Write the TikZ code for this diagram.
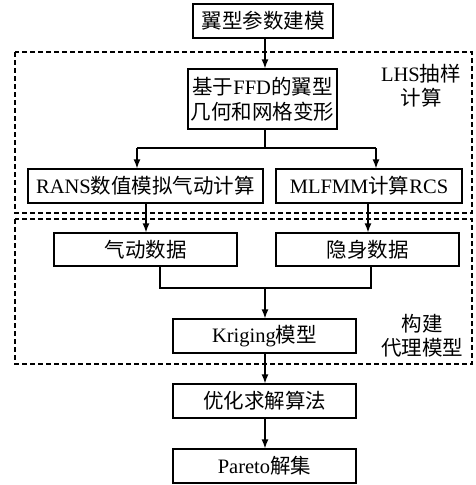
\documentclass[tikz,border=0pt]{standalone}
\usepackage{fontspec}
\setmainfont{Liberation Serif}
\newfontfamily\cjk{Noto Sans CJK SC}
\usetikzlibrary{arrows.meta}
\begin{document}
\begin{tikzpicture}[x=1pt,y=-1pt,
  box/.style={draw,line width=1.3pt,minimum height=34pt,inner sep=0pt,align=center,font=\fontsize{20.5}{25}\selectfont},
  lbl/.style={align=center,inner sep=0pt,font=\fontsize{20.5}{24}\selectfont},
  grp/.style={draw,line width=1.2pt,dash pattern=on 5pt off 3pt},
  arr/.style={line width=1.3pt,-{Latex[length=9pt,width=7pt]}},
  ln/.style={line width=1.3pt}]
\useasboundingbox (0,0) rectangle (475,485);
\draw[grp] (15,52) rectangle (472,213);
\draw[grp] (15,219) rectangle (472,364);
\node[box,minimum width=140pt] (n1) at (263,21) {{\cjk 翼型参数建模}};
\node[box,minimum width=149pt,minimum height=60pt] (ffd) at (262.5,99) {{\cjk 基于}FFD{\cjk 的翼型}\\{\cjk 几何和网格变形}};
\node[box,minimum width=235pt] (rans) at (145.5,186) {RANS{\cjk 数值模拟气动计算}};
\node[box,minimum width=186pt] (mlfmm) at (369,186) {MLFMM{\cjk 计算}RCS};
\node[box,minimum width=183pt,minimum height=33pt] (aero) at (145.5,249.5) {{\cjk 气动数据}};
\node[box,minimum width=183pt,minimum height=33pt] (stl) at (367.5,249.5) {{\cjk 隐身数据}};
\node[box,minimum width=183pt] (krig) at (264.5,336) {Kriging{\cjk 模型}};
\node[box,minimum width=183pt] (opt) at (264.5,401) {{\cjk 优化求解算法}};
\node[box,minimum width=183pt] (par) at (264.5,466) {Pareto{\cjk 解集}};
\node[lbl] (lhs) at (421,86) {LHS{\cjk 抽样}\\{\cjk 计算}};
\node[lbl] (sur) at (422,336) {{\cjk 构建}\\{\cjk 代理模型}};
\coordinate (b1) at (265,148);
\coordinate (bl) at (137,148);
\coordinate (br) at (376,148);
\coordinate (m) at (265,288);
\draw[arr] (n1.south -| 265,0) -- (ffd.north -| 265,0);
\draw[ln] (ffd.south -| b1) -- (b1);
\draw[ln] (bl) -- (br);
\draw[arr] (bl) -- (rans.north -| bl);
\draw[arr] (br) -- (mlfmm.north -| br);
\draw[arr] (rans.south -| 146,0) -- (aero.north -| 146,0);
\draw[arr] (mlfmm.south -| 368,0) -- (stl.north -| 368,0);
\draw[ln] (aero.south -| 160,0) |- (m) -| (stl.south -| 371,0);
\draw[arr] (m) -- (krig.north -| m);
\draw[arr] (krig.south -| 265,0) -- (opt.north -| 265,0);
\draw[arr] (opt.south -| 265,0) -- (par.north -| 265,0);
\end{tikzpicture}
\end{document}
